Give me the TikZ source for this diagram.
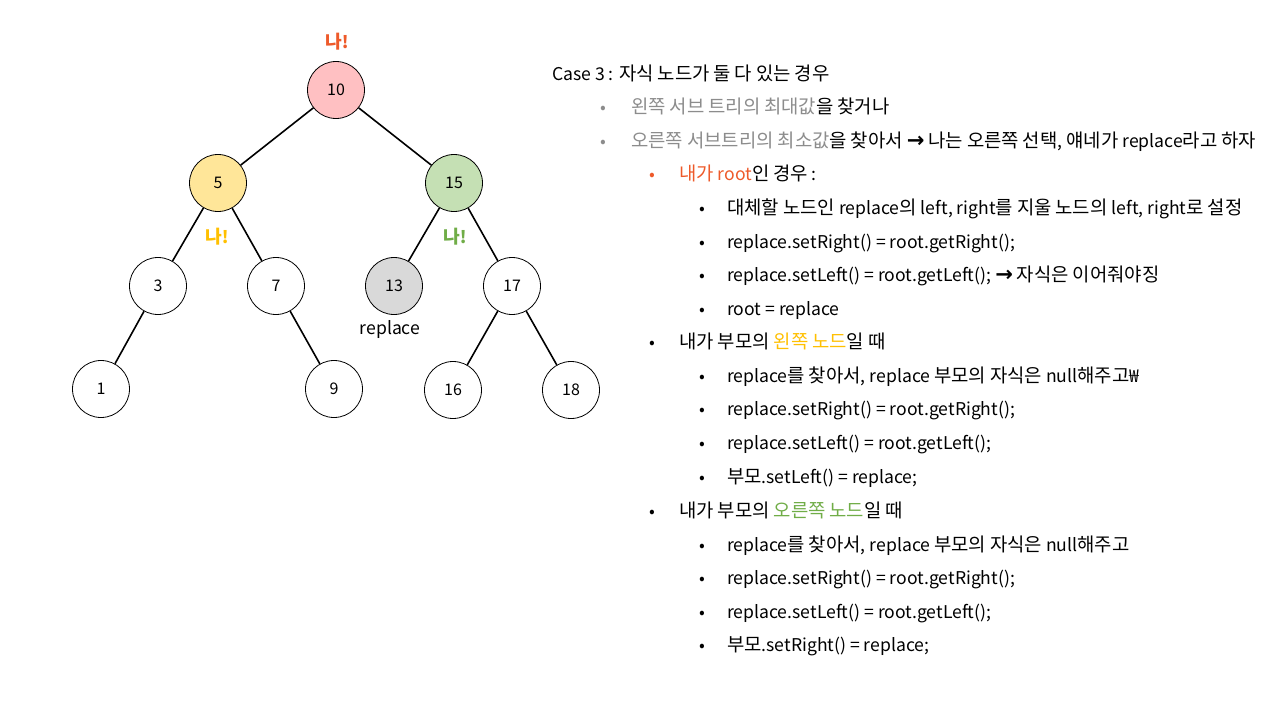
\documentclass[tikz,border=0pt]{standalone}
\usepackage{fontspec}
\setmainfont{Noto Sans CJK KR}
\newfontfamily\latfont{Noto Sans CJK KR}
\newfontfamily\krfont[Scale=1.07]{Noto Sans CJK KR}
\newfontfamily\arrfont[Scale=1.2]{DejaVu Sans}
\newXeTeXintercharclass\krclass
\count255="AC00
\loop
  \XeTeXcharclass\count255=\krclass
  \ifnum\count255<"D7A3 \advance\count255 by 1
\repeat
\XeTeXinterchartoks 0 \krclass = {\krfont}
\XeTeXinterchartoks 4095 \krclass = {\krfont}
\XeTeXinterchartoks \krclass 0 = {\latfont}
\XeTeXinterchartoks \krclass 4095 = {\latfont}
\XeTeXinterchartokenstate=1
\definecolor{rootfill}{HTML}{FFC0C2}
\definecolor{yelfill}{HTML}{FFE699}
\definecolor{grnfill}{HTML}{C5E0B4}
\definecolor{gryfill}{HTML}{D9D9D9}
\definecolor{redtxt}{HTML}{EE5A2A}
\definecolor{yeltxt}{HTML}{FFC000}
\definecolor{grntxt}{HTML}{70AD47}
\definecolor{grytxt}{HTML}{8C8C8C}
\newcommand{\rarr}{{\arrfont\bfseries →}}
\tikzset{
  tnode/.style={circle, draw=black, line width=0.8pt, minimum size=57pt, inner sep=0pt, fill=white, font=\fontsize{16}{18}\selectfont},
  edge/.style={line width=1.6pt},
  me/.style={font=\fontsize{17}{19}\selectfont\bfseries},
  line/.style={anchor=base west, inner sep=0pt, font=\fontsize{17.6}{20}\selectfont},
  bul/.style={anchor=base, inner sep=0pt, font=\fontsize{17}{19}\selectfont},
}
\begin{document}
\begin{tikzpicture}[x=1pt,y=-1pt]
\useasboundingbox (0,0) rectangle (1280,720);
\fill[white] (0,0) rectangle (1280,720);
% tree
\node[tnode, fill=rootfill] (n10) at (336,90) {10};
\node[tnode, fill=yelfill] (n5) at (218,183) {5};
\node[tnode, fill=grnfill] (n15) at (454,183) {15};
\node[tnode] (n3) at (158,286) {3};
\node[tnode] (n7) at (276,286) {7};
\node[tnode, fill=gryfill] (n13) at (394,286) {13};
\node[tnode] (n17) at (512,286) {17};
\node[tnode] (n1) at (101,389) {1};
\node[tnode] (n9) at (334,389) {9};
\node[tnode] (n16) at (453,390) {16};
\node[tnode] (n18) at (571,390) {18};
\draw[edge] (n10) -- (n5);
\draw[edge] (n10) -- (n15);
\draw[edge] (n5) -- (n3);
\draw[edge] (n5) -- (n7);
\draw[edge] (n15) -- (n13);
\draw[edge] (n15) -- (n17);
\draw[edge] (n3) -- (n1);
\draw[edge] (n7) -- (n9);
\draw[edge] (n17) -- (n16);
\draw[edge] (n17) -- (n18);
\node[me, text=redtxt] (l10) at (337,42) {나!};
\node[me, text=yeltxt] (l5) at (217,237) {나!};
\node[me, text=grntxt] (l15) at (455,237) {나!};
\node[font=\fontsize{17.6}{20}\selectfont] (lrep) at (390,330) {replace};
% text
\node[line] (t0) at (552,80) {Case 3 : 자식 노드가 둘 다 있는 경우};
\node[bul, text=grytxt] (b1) at (603,113) {•};
\node[line] (t1) at (631,113) {\textcolor{grytxt}{왼쪽 서브 트리의 최대값}을 찾거나};
\node[bul, text=grytxt] (b2) at (603,147) {•};
\node[line] (t2) at (631,147) {\textcolor{grytxt}{오른쪽 서브트리의 최소값}을 찾아서 \rarr{} 나는 오른쪽 선택, 얘네가 replace라고 하자};
\node[bul, text=redtxt] (b3) at (652,180) {•};
\node[line] (t3) at (679,180) {\textcolor{redtxt}{내가 root}인 경우 :};
\node[bul] (b4) at (702,214) {•};
\node[line] (t4) at (727,214) {대체할 노드인 replace의 left, right를 지울 노드의 left, right로 설정};
\node[bul] (b5) at (702,248) {•};
\node[line] (t5) at (727,248) {replace.setRight() = root.getRight();};
\node[bul] (b6) at (702,281) {•};
\node[line] (t6) at (727,281) {replace.setLeft() = root.getLeft(); \rarr{} 자식은 이어줘야징};
\node[bul] (b7) at (702,315) {•};
\node[line] (t7) at (727,315) {root = replace};
\node[bul] (b8) at (652,348) {•};
\node[line] (t8) at (679,348) {내가 부모의 \textcolor{yeltxt}{왼쪽 노드}일 때};
\node[bul] (b9) at (702,382) {•};
\node[line] (t9) at (727,382) {replace를 찾아서, replace 부모의 자식은 null해주고₩};
\node[bul] (b10) at (702,415) {•};
\node[line] (t10) at (727,415) {replace.setRight() = root.getRight();};
\node[bul] (b11) at (702,449) {•};
\node[line] (t11) at (727,449) {replace.setLeft() = root.getLeft();};
\node[bul] (b12) at (702,483) {•};
\node[line] (t12) at (727,483) {부모.setLeft() = replace;};
\node[bul] (b13) at (652,517) {•};
\node[line] (t13) at (679,517) {내가 부모의 \textcolor{grntxt}{오른쪽 노드}일 때};
\node[bul] (b14) at (702,551) {•};
\node[line] (t14) at (727,551) {replace를 찾아서, replace 부모의 자식은 null해주고};
\node[bul] (b15) at (702,584) {•};
\node[line] (t15) at (727,584) {replace.setRight() = root.getRight();};
\node[bul] (b16) at (702,618) {•};
\node[line] (t16) at (727,618) {replace.setLeft() = root.getLeft();};
\node[bul] (b17) at (702,651) {•};
\node[line] (t17) at (727,651) {부모.setRight() = replace;};
\end{tikzpicture}
\end{document}
